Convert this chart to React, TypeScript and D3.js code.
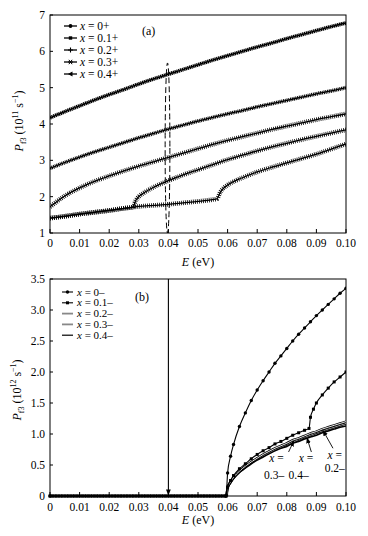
import React from 'react';
import * as d3 from 'd3';

// ---------- Panel (a) data: P_f3 (10^11 s^-1) vs E (eV) ----------
const eGridA = [0, 0.005, 0.01, 0.015, 0.02, 0.025, 0.03, 0.035, 0.04, 0.045, 0.05, 0.055, 0.06, 0.065, 0.07, 0.075, 0.08, 0.085, 0.09, 0.095, 0.1];
const pX0Plus = [4.17, 4.34, 4.50, 4.66, 4.81, 4.95, 5.10, 5.24, 5.37, 5.50, 5.63, 5.76, 5.88, 6.00, 6.12, 6.23, 6.35, 6.46, 6.57, 6.68, 6.78];
const pX01Plus = [2.78, 2.94, 3.09, 3.23, 3.36, 3.49, 3.62, 3.74, 3.86, 3.97, 4.08, 4.18, 4.28, 4.37, 4.47, 4.56, 4.65, 4.74, 4.83, 4.91, 5.00];
const pX02Plus = [1.72, 2.02, 2.24, 2.42, 2.57, 2.71, 2.84, 2.96, 3.08, 3.20, 3.32, 3.44, 3.55, 3.65, 3.75, 3.85, 3.94, 4.03, 4.12, 4.20, 4.28];
const eX03Plus = [0, 0.005, 0.01, 0.015, 0.02, 0.025, 0.028, 0.029, 0.03, 0.032, 0.035, 0.04, 0.045, 0.05, 0.055, 0.06, 0.065, 0.07, 0.075, 0.08, 0.085, 0.09, 0.095, 0.1];
const pX03Plus = [1.41, 1.46, 1.52, 1.57, 1.62, 1.68, 1.71, 1.90, 2.00, 2.12, 2.26, 2.44, 2.60, 2.74, 2.88, 3.02, 3.14, 3.26, 3.37, 3.47, 3.57, 3.66, 3.75, 3.84];
const eX04Plus = [0, 0.005, 0.01, 0.015, 0.02, 0.025, 0.028, 0.03, 0.035, 0.04, 0.045, 0.05, 0.055, 0.0564, 0.0575, 0.059, 0.06, 0.065, 0.07, 0.075, 0.08, 0.085, 0.09, 0.095, 0.1];
const pX04Plus = [1.41, 1.46, 1.52, 1.57, 1.62, 1.68, 1.71, 1.73, 1.76, 1.79, 1.83, 1.87, 1.92, 1.94, 2.12, 2.26, 2.32, 2.52, 2.68, 2.81, 2.93, 3.05, 3.17, 3.31, 3.45];
const labelsA = ['0+', '0.1+', '0.2+', '0.3+', '0.4+'];
// dashed loop around E = 0.04 in panel (a)
const loopA = { e: 0.0397, halfWidth: 0.0008, pLow: 1.0, pHigh: 5.68 };

// ---------- Panel (b) data: P_f3 (10^12 s^-1) vs E (eV) ----------
const eX0Minus = [0, 0.002, 0.004, 0.006, 0.008, 0.01, 0.012, 0.014, 0.016, 0.018, 0.02, 0.022, 0.024, 0.026, 0.028, 0.03, 0.032, 0.034, 0.036, 0.038, 0.04, 0.042, 0.044, 0.046, 0.048, 0.05, 0.052, 0.054, 0.056, 0.058, 0.0595, 0.06, 0.061, 0.062, 0.064, 0.066, 0.068, 0.07, 0.072, 0.074, 0.076, 0.078, 0.08, 0.082, 0.084, 0.086, 0.088, 0.09, 0.092, 0.094, 0.096, 0.098, 0.1];
const pX0Minus = [0, 0, 0, 0, 0, 0, 0, 0, 0, 0, 0, 0, 0, 0, 0, 0, 0, 0, 0, 0, 0, 0, 0, 0, 0, 0, 0, 0, 0, 0, 0, 0.37, 0.64, 0.83, 1.12, 1.34, 1.54, 1.71, 1.86, 2.00, 2.14, 2.26, 2.38, 2.50, 2.61, 2.71, 2.81, 2.91, 3.00, 3.09, 3.18, 3.27, 3.35];
const eX01Minus = [0, 0.001, 0.003, 0.005, 0.007, 0.009, 0.011, 0.013, 0.015, 0.017, 0.019, 0.021, 0.023, 0.025, 0.027, 0.029, 0.031, 0.033, 0.035, 0.037, 0.039, 0.041, 0.043, 0.045, 0.047, 0.049, 0.051, 0.053, 0.055, 0.057, 0.059, 0.0595, 0.06, 0.061, 0.062, 0.064, 0.066, 0.068, 0.07, 0.072, 0.074, 0.076, 0.078, 0.08, 0.082, 0.084, 0.086, 0.0875, 0.088, 0.089, 0.09, 0.092, 0.094, 0.096, 0.098, 0.1];
const pX01Minus = [0, 0, 0, 0, 0, 0, 0, 0, 0, 0, 0, 0, 0, 0, 0, 0, 0, 0, 0, 0, 0, 0, 0, 0, 0, 0, 0, 0, 0, 0, 0, 0, 0.145, 0.25, 0.33, 0.44, 0.52, 0.60, 0.67, 0.73, 0.78, 0.84, 0.88, 0.93, 0.98, 1.02, 1.06, 1.09, 1.27, 1.40, 1.50, 1.63, 1.74, 1.84, 1.92, 2.00];
const eLowMinus = [0, 0.0595, 0.06, 0.061, 0.062, 0.064, 0.066, 0.068, 0.07, 0.072, 0.074, 0.076, 0.078, 0.08, 0.082, 0.084, 0.086, 0.088, 0.09, 0.092, 0.094, 0.096, 0.098, 0.1];
const pX02Minus = [0, 0, 0.13, 0.23, 0.30, 0.40, 0.48, 0.55, 0.61, 0.67, 0.72, 0.77, 0.81, 0.85, 0.90, 0.93, 0.97, 1.01, 1.04, 1.08, 1.11, 1.14, 1.17, 1.20];
const pX03Minus = [0, 0, 0.13, 0.22, 0.29, 0.39, 0.47, 0.54, 0.60, 0.65, 0.70, 0.75, 0.79, 0.83, 0.87, 0.91, 0.95, 0.98, 1.02, 1.05, 1.08, 1.11, 1.14, 1.17];
const pX04Minus = [0, 0, 0.12, 0.21, 0.28, 0.38, 0.45, 0.52, 0.58, 0.63, 0.68, 0.73, 0.77, 0.80, 0.85, 0.88, 0.92, 0.95, 0.98, 1.02, 1.05, 1.08, 1.11, 1.13];
const labelsB = ['0–', '0.1–', '0.2–', '0.3–', '0.4–'];
const arrowBE = 0.04;
// annotation texts (data coords) and arrows (tail -> tip, data coords)
const annoTexts = [
  { e: 0.0765, p: 0.55, t: 'x =', it: true },
  { e: 0.0865, p: 0.55, t: 'x =', it: true },
  { e: 0.0962, p: 0.60, t: 'x =', it: true },
  { e: 0.0757, p: 0.28, t: '0.3–', it: false },
  { e: 0.0840, p: 0.28, t: '0.4–', it: false },
  { e: 0.0962, p: 0.39, t: '0.2–', it: false },
];
const annoArrows = [
  { e0: 0.0806, p0: 0.71, e1: 0.0824, p1: 0.89 },
  { e0: 0.0883, p0: 0.71, e1: 0.0868, p1: 0.94 },
  { e0: 0.0956, p0: 0.77, e1: 0.0922, p1: 1.06 },
];

// ---------- ticks ----------
const xTicks = [0, 0.01, 0.02, 0.03, 0.04, 0.05, 0.06, 0.07, 0.08, 0.09, 0.1];
const xTickLabels = ['0', '0.01', '0.02', '0.03', '0.04', '0.05', '0.06', '0.07', '0.08', '0.09', '0.10'];
const yTicksA = [1, 2, 3, 4, 5, 6, 7];
const yTickLabelsA = ['1', '2', '3', '4', '5', '6', '7'];
const yTicksB = [0, 0.5, 1, 1.5, 2, 2.5, 3, 3.5];
const yTickLabelsB = ['0', '0.5', '1.0', '1.5', '2.0', '2.5', '3.0', '3.5'];

const FONT = "'Liberation Serif', 'DejaVu Serif', serif";

function zip(e: number[], p: number[]): [number, number][] {
  return e.map((v, i) => [v, p[i]] as [number, number]);
}

function Marker({ type, x, y }: { type: string; x: number; y: number }) {
  if (type === 'circle') return <circle cx={x} cy={y} r={1.9} fill="#000" />;
  if (type === 'square') return <rect x={x - 1.7} y={y - 1.7} width={3.4} height={3.4} fill="#000" />;
  if (type === 'plus') return <path d={`M${x - 2.5},${y}H${x + 2.5}M${x},${y - 2.5}V${y + 2.5}`} stroke="#000" strokeWidth={1.1} />;
  if (type === 'star') return <path d={`M${x - 2.5},${y}H${x + 2.5}M${x - 1.6},${y - 2.2}L${x + 1.6},${y + 2.2}M${x + 1.6},${y - 2.2}L${x - 1.6},${y + 2.2}`} stroke="#000" strokeWidth={1} />;
  if (type === 'tri') return <path d={`M${x - 2.6},${y}L${x + 2},${y - 2.4}L${x + 2},${y + 2.4}Z`} fill="#000" />;
  return null;
}

function Frame({ x, y, yTicks, yLabels, tickLabelY }: any) {
  const [x0, x1] = x.range();
  const [yb, yt] = y.range();
  return (
    <g>
      <rect x={x0} y={yt} width={x1 - x0} height={yb - yt} fill="none" stroke="#000" strokeWidth={1} />
      {xTicks.map((t, i) => (
        <g key={'xt' + i}>
          <line x1={x(t)} x2={x(t)} y1={yb} y2={yb - 4} stroke="#000" strokeWidth={1} />
          <text x={x(t)} y={tickLabelY} textAnchor="middle" fontSize={11.5} style={{ fontFamily: FONT }}>{xTickLabels[i]}</text>
        </g>
      ))}
      {yTicks.map((t: number, i: number) => (
        <g key={'yt' + i}>
          <line x1={x0} x2={x0 + 3} y1={y(t)} y2={y(t)} stroke="#000" strokeWidth={1} />
          <text x={45} y={y(t) + 4} textAnchor="end" fontSize={11.5} style={{ fontFamily: FONT }}>{yLabels[i]}</text>
        </g>
      ))}
    </g>
  );
}

function XLabel({ cx, y }: { cx: number; y: number }) {
  return (
    <text x={cx} y={y} textAnchor="middle" fontSize={12} style={{ fontFamily: FONT }}>
      <tspan fontStyle="italic">E</tspan> (eV)
    </text>
  );
}

function YLabel({ cx, cy, exp }: { cx: number; cy: number; exp: string }) {
  return (
    <text transform={`translate(${cx},${cy}) rotate(-90)`} textAnchor="middle" fontSize={12} style={{ fontFamily: FONT }}>
      <tspan fontStyle="italic">P</tspan>
      <tspan fontSize={8} dy={3}>f3</tspan>
      <tspan dy={-3}> (10</tspan>
      <tspan fontSize={8} dy={-5}>{exp}</tspan>
      <tspan dy={5}> s</tspan>
      <tspan fontSize={8} dy={-5}>−1</tspan>
      <tspan dy={5}>)</tspan>
    </text>
  );
}

export default function App() {
  const xA = d3.scaleLinear().domain([0, 0.1]).range([50, 346]);
  const yA = d3.scaleLinear().domain([1, 7]).range([233, 15]);
  const xB = d3.scaleLinear().domain([0, 0.1]).range([50, 346]);
  const yB = d3.scaleLinear().domain([0, 3.5]).range([496, 279]);

  const lineA = d3.line<[number, number]>().x(d => xA(d[0])).y(d => yA(d[1])).curve(d3.curveMonotoneX);
  const lineB = d3.line<[number, number]>().x(d => xB(d[0])).y(d => yB(d[1])).curve(d3.curveMonotoneX);

  const seriesA = [
    { data: zip(eGridA, pX0Plus), w: 3.8, dash: '1.3 0.6', marker: 'circle' },
    { data: zip(eGridA, pX01Plus), w: 3.8, dash: '1 0.8', marker: 'square' },
    { data: zip(eGridA, pX02Plus), w: 4.6, dash: '0.8 1.2', marker: 'plus' },
    { data: zip(eX03Plus, pX03Plus), w: 4.6, dash: '0.8 1.2', marker: 'star' },
    { data: zip(eX04Plus, pX04Plus), w: 4.6, dash: '0.8 1.2', marker: 'tri' },
  ];

  const d0m = zip(eX0Minus, pX0Minus);
  const d1m = zip(eX01Minus, pX01Minus);
  const d2m = zip(eLowMinus, pX02Minus);
  const d3m = zip(eLowMinus, pX03Minus);
  const d4m = zip(eLowMinus, pX04Minus);

  const loopCx = xA(loopA.e);
  const loopRx = xA(loopA.e + loopA.halfWidth) - xA(loopA.e);
  const loopCy = (yA(loopA.pLow) + yA(loopA.pHigh)) / 2;
  const loopRy = (yA(loopA.pLow) - yA(loopA.pHigh)) / 2;

  return (
    <svg width={368} height={536} viewBox="0 0 368 536" style={{ position: 'absolute', left: 0, top: 0, background: '#fff', fontFamily: FONT }}>
      <defs>
        <marker id="ah" viewBox="0 0 8 8" refX={7.5} refY={4} markerWidth={6} markerHeight={6} orient="auto" markerUnits="userSpaceOnUse">
          <path d="M0,0.8 L8,4 L0,7.2 Z" fill="#000" />
        </marker>
        <clipPath id="clipA"><rect x={50} y={15} width={296} height={218} /></clipPath>
        <clipPath id="clipB"><rect x={48} y={279} width={298} height={220} /></clipPath>
      </defs>
      <rect x={0} y={0} width={368} height={536} fill="#fff" />

      {/* ---------------- Panel (a) ---------------- */}
      <Frame x={xA} y={yA} yTicks={yTicksA} yLabels={yTickLabelsA} tickLabelY={247} />
      <g clipPath="url(#clipA)">
        {seriesA.map((s, i) => (
          <g key={'sa' + i}>
            <path d={lineA(s.data) || ''} fill="none" stroke="#000" strokeWidth={1.3} />
            <path d={lineA(s.data) || ''} fill="none" stroke="#000" strokeWidth={s.w} strokeDasharray={s.dash} />
          </g>
        ))}
        <ellipse cx={loopCx} cy={loopCy} rx={loopRx} ry={loopRy} fill="none" stroke="#000" strokeWidth={1} strokeDasharray="6 3" />
      </g>
      {labelsA.map((lab, i) => {
        const yy = 26 + i * 12;
        return (
          <g key={'la' + i}>
            <line x1={64} x2={77} y1={yy} y2={yy} stroke="#000" strokeWidth={1.3} />
            <Marker type={seriesA[i].marker} x={70.5} y={yy} />
            <text x={80} y={yy + 4} fontSize={11.5} style={{ fontFamily: FONT }}>
              <tspan fontStyle="italic">x</tspan> = {lab}
            </text>
          </g>
        );
      })}
      <text x={142} y={35} fontSize={12} style={{ fontFamily: FONT }}>(a)</text>
      <XLabel cx={198} y={266} />
      <YLabel cx={23} cy={121} exp="11" />

      {/* ---------------- Panel (b) ---------------- */}
      <Frame x={xB} y={yB} yTicks={yTicksB} yLabels={yTickLabelsB} tickLabelY={511} />
      <line x1={xB(arrowBE)} x2={xB(arrowBE)} y1={yB(3.5)} y2={yB(0) - 1} stroke="#000" strokeWidth={1.1} markerEnd="url(#ah)" />
      <g clipPath="url(#clipB)">
        <path d={lineB(d4m) || ''} fill="none" stroke="#000" strokeWidth={1.6} />
        <path d={lineB(d3m) || ''} fill="none" stroke="#000" strokeWidth={2.4} />
        <path d={lineB(d3m) || ''} fill="none" stroke="#aaa" strokeWidth={0.9} />
        <path d={lineB(d2m) || ''} fill="none" stroke="#000" strokeWidth={2.4} />
        <path d={lineB(d2m) || ''} fill="none" stroke="#fff" strokeWidth={0.9} />
        <path d={lineB(d1m) || ''} fill="none" stroke="#000" strokeWidth={1.1} />
        {d1m.map((d, i) => (
          <rect key={'m1' + i} x={xB(d[0]) - 1.5} y={yB(d[1]) - 1.5} width={3} height={3} fill="#000" />
        ))}
        <path d={lineB(d0m) || ''} fill="none" stroke="#000" strokeWidth={1.1} />
        {d0m.map((d, i) => (
          <circle key={'m0' + i} cx={xB(d[0])} cy={yB(d[1])} r={1.7} fill="#000" />
        ))}
      </g>
      {labelsB.map((lab, i) => {
        const yy = 292 + i * 10.8;
        return (
          <g key={'lb' + i}>
            {i <= 1 && <line x1={62} x2={73} y1={yy} y2={yy} stroke="#000" strokeWidth={1.1} />}
            {i === 0 && <circle cx={67.5} cy={yy} r={1.7} fill="#000" />}
            {i === 1 && <rect x={66} y={yy - 1.5} width={3} height={3} fill="#000" />}
            {(i === 2 || i === 3) && <line x1={62} x2={73} y1={yy} y2={yy} stroke="#888" strokeWidth={1.8} />}
            {i === 4 && <line x1={62} x2={73} y1={yy} y2={yy} stroke="#000" strokeWidth={1.2} />}
            <text x={77} y={yy + 3.5} fontSize={11} style={{ fontFamily: FONT }}>
              <tspan fontStyle="italic">x</tspan> = {lab}
            </text>
          </g>
        );
      })}
      <text x={135} y={301} fontSize={12} style={{ fontFamily: FONT }}>(b)</text>
      {annoArrows.map((a, i) => (
        <line key={'aa' + i} x1={xB(a.e0)} y1={yB(a.p0)} x2={xB(a.e1)} y2={yB(a.p1)} stroke="#000" strokeWidth={0.9} markerEnd="url(#ah)" />
      ))}
      {annoTexts.map((a, i) => (
        <text key={'at' + i} x={xB(a.e)} y={yB(a.p)} textAnchor="middle" fontSize={11.5} style={{ fontFamily: FONT }}>
          {a.it ? (<><tspan fontStyle="italic">x</tspan> =</>) : a.t}
        </text>
      ))}
      <XLabel cx={198} y={524} />
      <YLabel cx={21} cy={390} exp="12" />
    </svg>
  );
}
